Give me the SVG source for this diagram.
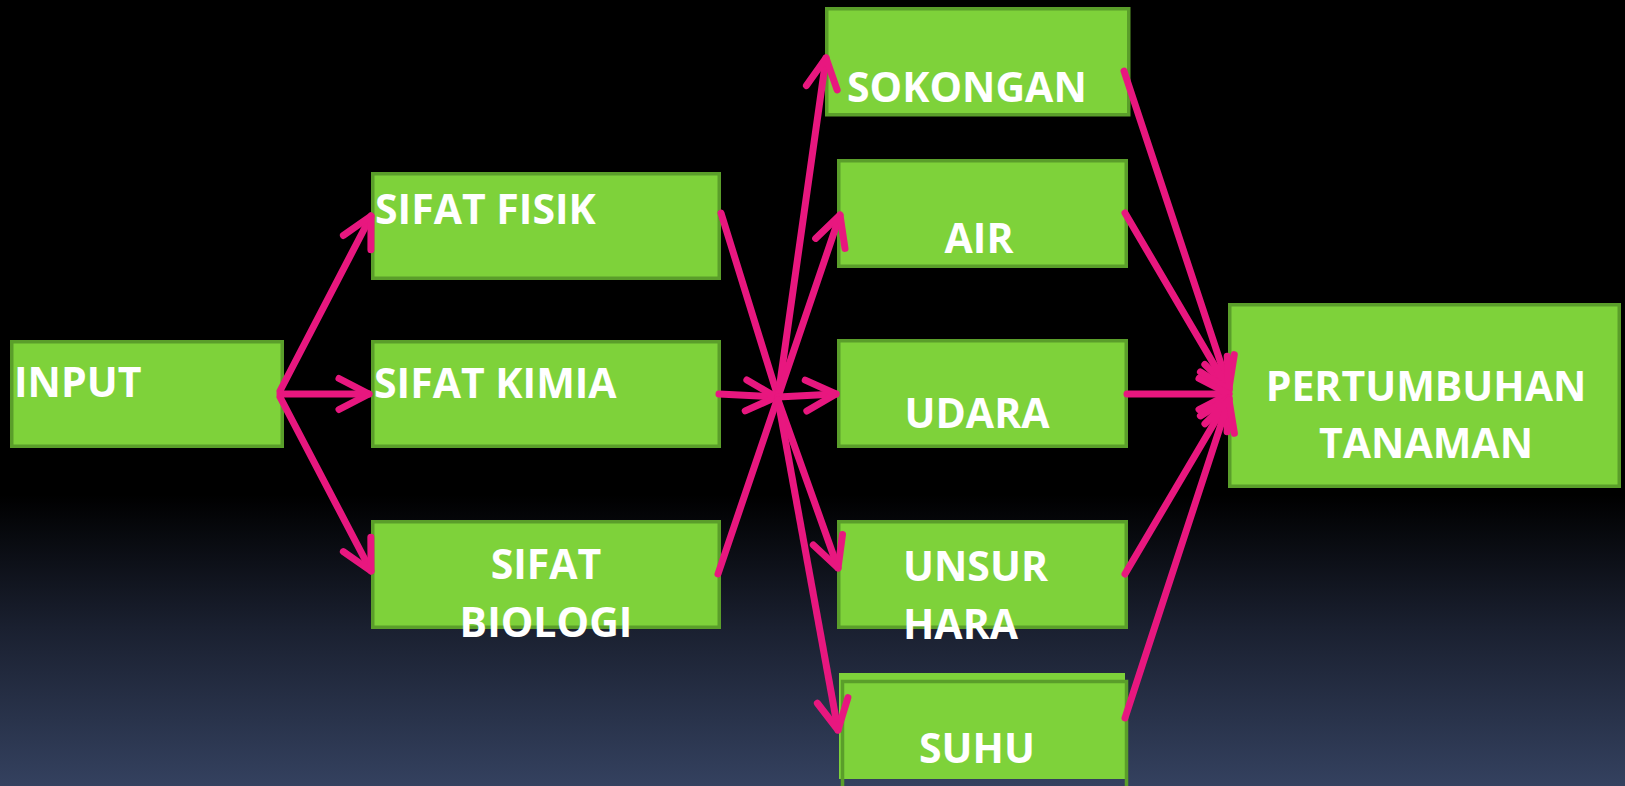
<svg xmlns="http://www.w3.org/2000/svg" width="1625" height="786" viewBox="0 0 1625 786">
<defs>
<linearGradient id="bg" x1="0" y1="0" x2="0" y2="1">
<stop offset="0" stop-color="#000"/>
<stop offset="0.63" stop-color="#000"/>
<stop offset="0.8" stop-color="#1a2030"/>
<stop offset="1" stop-color="#34415f"/>
</linearGradient>
<marker id="ah" markerUnits="userSpaceOnUse" viewBox="-40 -25 50 50" markerWidth="50" markerHeight="50" refX="0" refY="0" orient="auto" overflow="visible">
<path d="M-30,-15.5 L0,0 L-30,15.5" fill="none" stroke="#e8177f" stroke-width="7" stroke-linecap="round" stroke-linejoin="round"/>
</marker>
<style>
.box{fill:#7ed23a;stroke:#5a9e2a;stroke-width:3.5}
.t{font-family:"Open Sans","Liberation Sans",sans-serif;font-weight:bold;font-size:41px;fill:#fff}
.c{text-anchor:middle}
.ln{fill:none;stroke:#e8177f;stroke-width:7;stroke-linecap:round}
.ar{marker-end:url(#ah)}
</style>
</defs>
<rect width="1625" height="786" fill="url(#bg)"/>
<g id="input">
<rect class="box" x="11.75" y="341.75" width="270.5" height="104.5"/>
<text class="t" x="14" y="397">INPUT</text>
</g>
<g id="sifat-fisik">
<rect class="box" x="372.75" y="173.75" width="346.5" height="104.5"/>
<text class="t" x="375" y="224">SIFAT FISIK</text>
</g>
<g id="sifat-kimia">
<rect class="box" x="372.75" y="341.75" width="346.5" height="104.5"/>
<text class="t" x="374" y="398">SIFAT KIMIA</text>
</g>
<g id="sifat-biologi">
<rect class="box" x="372.75" y="521.75" width="346.5" height="105.5"/>
<text class="t c" x="546" y="579">SIFAT</text>
<text class="t c" x="546" y="637">BIOLOGI</text>
</g>
<g id="sokongan">
<rect class="box" x="826.75" y="8.75" width="302" height="106"/>
<text class="t" x="847" y="102">SOKONGAN</text>
</g>
<g id="air">
<rect class="box" x="838.75" y="160.75" width="287.5" height="105.5"/>
<text class="t c" x="979" y="253">AIR</text>
</g>
<g id="udara">
<rect class="box" x="838.75" y="340.75" width="287.5" height="105.5"/>
<text class="t c" x="977" y="428">UDARA</text>
</g>
<g id="unsur-hara">
<rect class="box" x="838.75" y="521.75" width="287.5" height="105.5"/>
<text class="t" x="903" y="581">UNSUR</text>
<text class="t" x="903" y="639">HARA</text>
</g>
<g id="suhu">
<rect x="839" y="673" width="286" height="106" fill="#7ed23a"/>
<rect x="842.5" y="681.5" width="284" height="120" fill="none" stroke="#5a9e2a" stroke-width="3.5"/>
<text class="t c" x="977" y="763">SUHU</text>
</g>
<g id="pertumbuhan-tanaman">
<rect class="box" x="1229.75" y="304.75" width="389.5" height="181.5"/>
<text class="t c" x="1426" y="401">PERTUMBUHAN</text>
<text class="t c" x="1426" y="458">TANAMAN</text>
</g>
<g id="connectors">
<line class="ln ar" x1="280" y1="391" x2="371" y2="216"/>
<line class="ln ar" x1="280" y1="394" x2="369" y2="394"/>
<line class="ln ar" x1="280" y1="397" x2="371" y2="571"/>
<line class="ln" x1="721" y1="213" x2="778" y2="397"/>
<line class="ln ar" x1="719" y1="394" x2="776" y2="397"/>
<line class="ln" x1="718" y1="574" x2="778" y2="397"/>
<line class="ln ar" x1="778" y1="397" x2="826" y2="58"/>
<line class="ln ar" x1="778" y1="397" x2="840" y2="215"/>
<line class="ln ar" x1="778" y1="397" x2="836" y2="394"/>
<line class="ln ar" x1="778" y1="400" x2="838" y2="568"/>
<line class="ln ar" x1="778" y1="400" x2="838" y2="730"/>
<line class="ln ar" x1="1124" y1="71" x2="1229" y2="388"/>
<line class="ln ar" x1="1125" y1="213" x2="1229" y2="390"/>
<line class="ln ar" x1="1127" y1="394" x2="1229" y2="394"/>
<line class="ln ar" x1="1125" y1="574" x2="1229" y2="398"/>
<line class="ln ar" x1="1125" y1="718" x2="1229" y2="400"/>
</g>
</svg>
